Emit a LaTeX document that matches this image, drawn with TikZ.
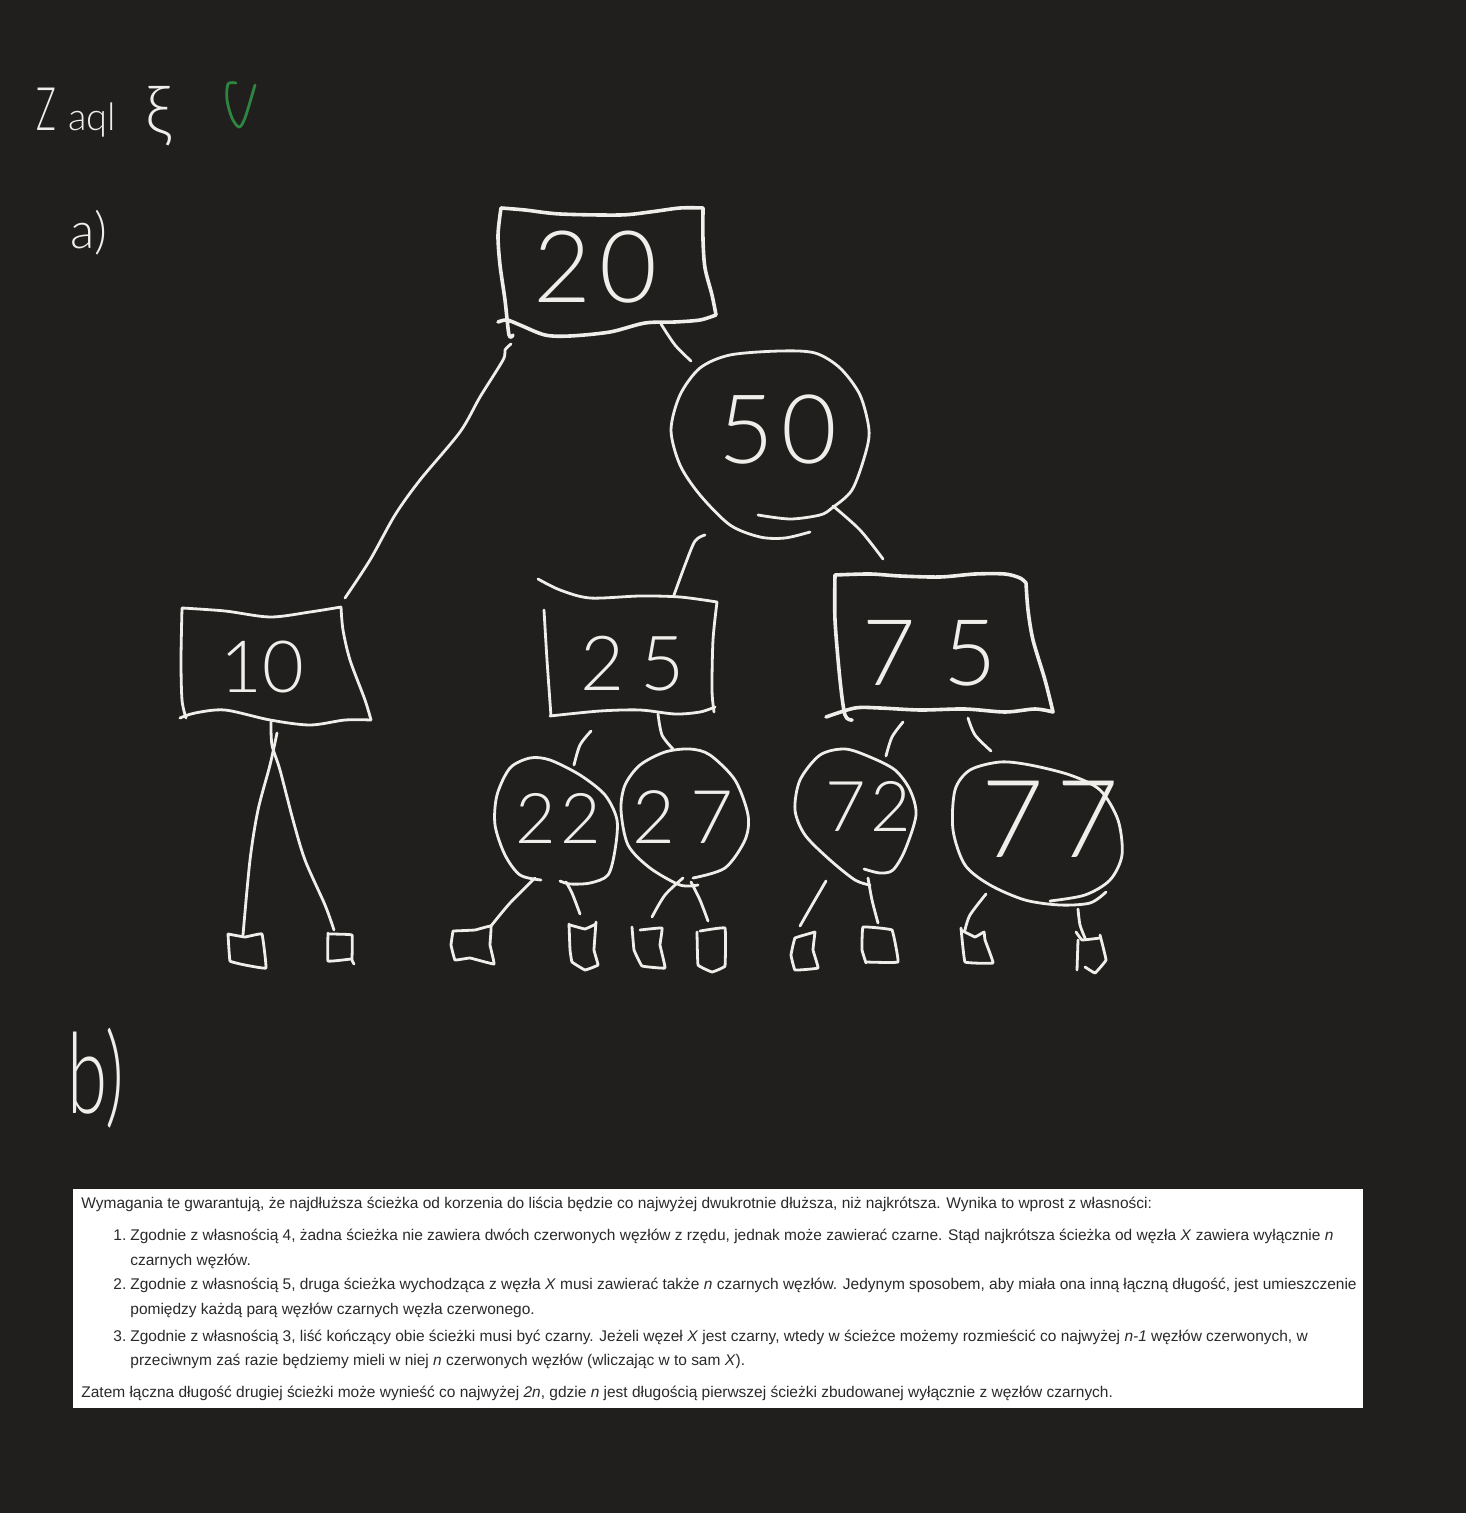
\documentclass[tikz,border=0pt]{standalone}
\usepackage{fontspec}
\usepackage{graphicx}
\setmainfont{Liberation Sans}
\newfontfamily\handfont{Lato Light}
\definecolor{bgdark}{HTML}{201F1E}
\definecolor{inkwhite}{HTML}{EFEEEA}
\definecolor{inkgreen}{HTML}{2E8540}
\definecolor{printgray}{HTML}{2A2A2A}
\tikzset{
  ink/.style={draw=inkwhite,line width=1.4pt,line cap=round,line join=round},
  inkthick/.style={ink,line width=1.8pt},
  hand/.style={text=inkwhite,inner sep=0pt},
  printline/.style={anchor=base west,inner sep=0pt,text=printgray,font=\fontsize{7.74}{9}\selectfont},
  sm/.style={smooth,tension=0.5},
  leaf/.style={smooth,tension=0.12}
}
\newcommand{\handsize}[1]{\handfont\fontsize{#1}{#1}\selectfont}
\begin{document}
\begin{tikzpicture}[x=0.5pt,y=-0.5pt]
\useasboundingbox (0,0) rectangle (1466,1513);
\fill[bgdark] (0,0) rectangle (1466,1513);

% handwritten headings
\node[hand,font=\handsize{30}] (hz) at (46,109) {\scalebox{.55}[1]{Z}};
\node[hand,font=\handsize{19}] (haql) at (92,120) {aql};
\node[hand,font=\handsize{34}] (hxi) at (158,116) {ξ};
\node[hand,font=\handsize{25}] (ha) at (89,233) {a)};
\node[hand,font=\handsize{56}] (hb) at (96,1078) {\scalebox{.65}[1]{b)}};
\draw[ink,draw=inkgreen] plot[sm] coordinates {(236,83) (228,84) (227,100) (232,118) (239,127) (245,118) (255,85)};

% node outlines
\draw[inkthick]
  plot[sm] coordinates {(501,208) (525,210) (560,214) (620,215) (650,212) (680,208) (703,208)}
  plot[sm] coordinates {(703,208) (703,240) (705,268) (712,295) (716,315)}
  plot[sm] coordinates {(716,315) (700,320) (675,322) (645,323) (610,332) (570,336) (545,335) (520,325) (507,320) (498,322)}
  plot[sm] coordinates {(501,208) (498,235) (500,265) (505,300) (509,335) (513,335)};
\node[hand,font=\handsize{50}] (n20) at (595,267) {2\kern4pt 0};

\draw[ink] plot[sm] coordinates {(758,515) (790,519) (820,515) (832,508) (852,490) (865,455) (869,430) (860,395) (840,368) (815,353) (780,351) (730,355) (700,368) (680,395) (671,430) (680,465) (700,495) (730,525) (760,537) (785,538) (810,532)};
\node[hand,font=\handsize{48}] (n50) at (778,430) {5\kern4pt 0};

\draw[ink]
  plot[sm] coordinates {(182,608) (225,611) (270,617) (310,612) (341,607)}
  plot[sm] coordinates {(341,607) (343,630) (350,660) (365,700) (371,720)}
  plot[sm] coordinates {(371,720) (345,720) (310,725) (270,720) (225,710) (195,713) (180,718)}
  plot[sm] coordinates {(182,608) (181,660) (182,700) (186,718)};
\node[hand,font=\handsize{36}] (n10) at (262,667) {10};

\draw[ink]
  plot[sm] coordinates {(538,579) (560,590) (590,598) (640,596) (680,597) (717,602)}
  plot[sm] coordinates {(717,602) (713,640) (712,690) (714,712)}
  plot[sm] coordinates {(715,707) (700,712) (675,714) (640,710) (600,711) (550,716)}
  plot[sm] coordinates {(544,610) (547,660) (551,716)};
\node[hand,font=\handsize{38}] (n25) at (633,664) {2\kern8pt 5};

\draw[inkthick]
  plot[sm] coordinates {(835,575) (870,574) (900,576) (940,577) (975,574) (1005,574) (1020,578) (1026,583)}
  plot[sm] coordinates {(1026,583) (1028,610) (1033,640) (1045,680) (1053,712)}
  plot[sm] coordinates {(1053,712) (1035,709) (1005,712) (965,709) (920,710) (880,708) (855,708) (826,717)}
  plot[sm] coordinates {(835,575) (835,620) (840,680) (845,715) (852,720)};
\node[hand,font=\handsize{46}] (n75) at (930,653) {7\kern14pt 5};

\draw[ink] plot[sm] coordinates {(541,880) (520,875) (505,855) (495,825) (497,795) (510,768) (530,758) (550,760) (580,775) (605,795) (617,820) (615,850) (608,875) (590,883) (570,884) (560,881)};
\node[hand,font=\handsize{35}] (n22) at (558,818) {2\kern2pt 2};

\draw[ink] plot[sm] coordinates {(693,878) (725,868) (745,840) (748,815) (735,780) (710,755) (690,749) (665,752) (640,765) (625,785) (621,810) (628,845) (650,868) (680,885) (698,885)};
\node[hand,font=\handsize{37}] (n27) at (683,817) {2\kern8pt 7};

\draw[ink] plot[sm] coordinates {(864,869) (880,873) (893,870) (905,850) (916,815) (910,790) (895,770) (870,757) (845,749) (820,755) (800,780) (795,810) (805,835) (830,860) (855,880) (870,885)};
\node[hand,font=\handsize{35}] (n72) at (868,806) {7\kern2pt 2};

\draw[ink] plot[sm] coordinates {(1050,901) (1085,895) (1110,880) (1122,855) (1118,820) (1100,790) (1070,775) (1030,765) (1000,762) (970,770) (955,790) (953,830) (965,865) (990,885) (1025,900) (1060,905) (1090,903) (1106,892)};
\node[hand,font=\handsize{54}] (n77) at (1050,819) {7\kern6pt 7};

% leaves
\draw[ink] plot[leaf] coordinates {(228,934) (245,937) (262,934) (266,968) (245,965) (230,961) (228,934)};
\coordinate (l1) at (243,935);
\draw[ink] plot[leaf] coordinates {(329,934) (352,935) (352,960) (354,964)};
\draw[ink] plot[leaf] coordinates {(328,933) (328,961) (351,959)};
\coordinate (l2) at (334,930);
\draw[ink] plot[leaf] coordinates {(453,931) (475,930) (491,926) (490,945) (494,964) (470,958) (455,960) (451,945) (453,931)};
\coordinate (l3) at (491,926);
\draw[ink] plot[leaf] coordinates {(569,924) (570,950) (572,962) (585,970) (598,965) (594,950) (596,922)};
\draw[ink] plot[leaf] coordinates {(570,925) (585,929) (596,924)};
\coordinate (l4) at (580,914);
\draw[ink] plot[leaf] coordinates {(640,930) (662,928) (660,945) (665,968) (642,966) (634,950) (632,927)};
\coordinate (l5) at (652,917);
\draw[ink] plot[leaf] coordinates {(697,932) (698,965) (712,972) (725,966) (725,928) (700,931)};
\coordinate (l6) at (708,921);
\draw[ink] plot[leaf] coordinates {(815,932) (795,938) (791,955) (795,970) (818,968) (813,950) (815,932)};
\coordinate (l7) at (800,926);
\draw[ink] plot[leaf] coordinates {(866,962) (898,962) (892,930) (863,927) (862,950) (866,963)};
\coordinate (l8) at (878,923);
\draw[ink] plot[leaf] coordinates {(961,928) (965,962) (993,963) (985,940) (984,932) (975,937) (961,930)};
\coordinate (l9) at (965,930);
\draw[ink] plot[leaf] coordinates {(1076,932) (1082,940) (1100,938)};
\draw[ink] plot[leaf] coordinates {(1100,935) (1106,960) (1095,973) (1085,967)};
\draw[ink] plot[leaf] coordinates {(1078,940) (1077,970)};
\coordinate (l10) at (1085,938);

% connector ends at the node outlines
\coordinate (c20a) at (511,344);
\coordinate (c10t) at (345,598);
\coordinate (c20b) at (661,324);
\coordinate (c50t) at (691,361);
\coordinate (c50a) at (705,535);
\coordinate (c25t) at (674,595);
\coordinate (c50b) at (833,506);
\coordinate (c75t) at (883,559);
\coordinate (c10a) at (271,722);
\coordinate (c10b) at (277,733);
\coordinate (c25a) at (591,731);
\coordinate (c22t) at (574,765);
\coordinate (c25b) at (658,714);
\coordinate (c27t) at (673,749);
\coordinate (c75a) at (903,722);
\coordinate (c72t) at (886,756);
\coordinate (c75b) at (968,718);
\coordinate (c77t) at (991,751);
\coordinate (c22a) at (535,878);
\coordinate (c22b) at (566,882);
\coordinate (c27a) at (683,878);
\coordinate (c27b) at (691,882);
\coordinate (c72a) at (826,881);
\coordinate (c72b) at (868,878);
\coordinate (c77a) at (986,894);
\coordinate (c77b) at (1078,909);

% connectors
\draw[ink] plot[sm] coordinates {(c20a) (505,350) (503,360) (480,397) (460,432) (420,480) (395,515) (370,560) (c10t)};
\draw[ink] plot[sm] coordinates {(c20b) (675,345) (c50t)};
\draw[ink] plot[sm] coordinates {(c50a) (695,541) (685,565) (c25t)};
\draw[ink] plot[sm] coordinates {(c50b) (860,530) (c75t)};
\draw[ink] plot[sm] coordinates {(c10a) (272,745) (280,770) (293,820) (305,860) (325,905) (l2)};
\draw[ink] plot[sm] coordinates {(c10b) (270,765) (258,810) (250,860) (l1)};
\draw[ink] plot[sm] coordinates {(c25a) (580,745) (c22t)};
\draw[ink] plot[sm] coordinates {(c25b) (662,735) (c27t)};
\draw[ink] plot[sm] coordinates {(c75a) (892,737) (c72t)};
\draw[ink] plot[sm] coordinates {(c75b) (975,735) (c77t)};
\draw[ink] plot[sm] coordinates {(c22a) (510,903) (l3)};
\draw[ink] plot[sm] coordinates {(c22b) (572,893) (l4)};
\draw[ink] plot[sm] coordinates {(c27a) (665,895) (l5)};
\draw[ink] plot[sm] coordinates {(c27b) (700,900) (l6)};
\draw[ink] plot[sm] coordinates {(c72a) (812,905) (l7)};
\draw[ink] plot[sm] coordinates {(c72b) (872,900) (l8)};
\draw[ink] plot[sm] coordinates {(c77a) (970,915) (l9)};
\draw[ink] plot[sm] coordinates {(c77b) (1080,925) (l10)};

% printed paragraph
\fill[white] (73,1189) rectangle (1363,1408);
\node[printline] (t1) at (81,1208) {Wymagania te gwarantują, że najdłuższa ścieżka od korzenia do liścia będzie co najwyżej dwukrotnie dłuższa, niż najkrótsza. Wynika to wprost z własności:};
\node[printline] (t2n) at (113,1240) {1.};
\node[printline] (t2) at (130,1240) {Zgodnie z własnością 4, żadna ścieżka nie zawiera dwóch czerwonych węzłów z rzędu, jednak może zawierać czarne. Stąd najkrótsza ścieżka od węzła \textit{X} zawiera wyłącznie \textit{n}};
\node[printline] (t3) at (130,1265) {czarnych węzłów.};
\node[printline] (t4n) at (113,1289) {2.};
\node[printline] (t4) at (130,1289) {Zgodnie z własnością 5, druga ścieżka wychodząca z węzła \textit{X} musi zawierać także \textit{n} czarnych węzłów. Jedynym sposobem, aby miała ona inną łączną długość, jest umieszczenie};
\node[printline] (t5) at (130,1314) {pomiędzy każdą parą węzłów czarnych węzła czerwonego.};
\node[printline] (t6n) at (113,1341) {3.};
\node[printline] (t6) at (130,1341) {Zgodnie z własnością 3, liść kończący obie ścieżki musi być czarny. Jeżeli węzeł \textit{X} jest czarny, wtedy w ścieżce możemy rozmieścić co najwyżej \textit{n-1} węzłów czerwonych, w};
\node[printline] (t7) at (130,1365) {przeciwnym zaś razie będziemy mieli w niej \textit{n} czerwonych węzłów (wliczając w to sam \textit{X}).};
\node[printline] (t8) at (81,1397) {Zatem łączna długość drugiej ścieżki może wynieść co najwyżej \textit{2n}, gdzie \textit{n} jest długością pierwszej ścieżki zbudowanej wyłącznie z węzłów czarnych.};
\end{tikzpicture}
\end{document}
